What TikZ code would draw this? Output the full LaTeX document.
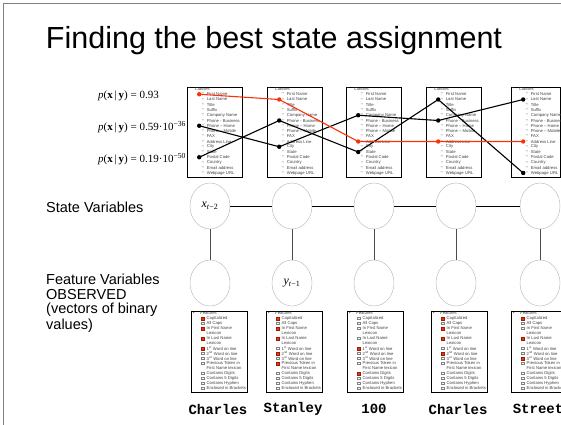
\documentclass[tikz,border=0pt]{standalone}
\usepackage{fontspec}
\setmainfont{Liberation Sans}
\newfontfamily\wordfont{Liberation Mono}
\newfontfamily\probfont{Liberation Serif}
\usetikzlibrary{shapes.geometric}
\definecolor{pathred}{RGB}{250,50,10}

\begin{document}
\begin{tikzpicture}[x=1pt,y=-1pt,
  classbox/.style={draw,line width=0.9pt,minimum height=90pt,anchor=north west,inner sep=0pt},
  featbox/.style={draw,line width=0.9pt,minimum width=56pt,minimum height=81pt,anchor=north west,inner sep=0pt},
  varnode/.style={draw=gray!60,ellipse,minimum width=40pt,minimum height=46pt,inner sep=0pt,font=\probfont\fontsize{12}{12}\selectfont},
  tiny/.style={font=\fontsize{4.2}{5}\selectfont,inner sep=0pt,anchor=west,text=black!75},
  tickbox/.style={draw=gray,line width=0.3pt,minimum size=2.4pt,inner sep=0pt},
  ticked/.style={fill=pathred,draw=pathred!60!black,line width=0.3pt,minimum size=2.8pt,inner sep=0pt},
  side/.style={font=\fontsize{14.5}{15.5}\selectfont,anchor=west,inner sep=0pt},
  prob/.style={font=\probfont\fontsize{11}{11}\selectfont,anchor=west,inner sep=0pt},
]
  \clip (0,0) rectangle (561,424);
  \draw[gray,line width=1pt] (3,3) rectangle (580,440);
  \node (title) at (274,41) {\fontsize{30.5}{30.5}\selectfont Finding the best state assignment};

  % candidate label sequences
  \node[prob] (p1) at (98,96) {\textit{p}(\textbf{x}\,|\,\textbf{y}) = 0.93};
  \node[prob] (p2) at (98,127) {\textit{p}(\textbf{x}\,|\,\textbf{y}) = 0.59·10\textsuperscript{−36}};
  \node[prob] (p3) at (98,159) {\textit{p}(\textbf{x}\,|\,\textbf{y}) = 0.19·10\textsuperscript{−50}};

  \foreach \i/\bx/\bw in {1/186.7/55,2/266.7/55,3/345.7/55,4/425.7/55,5/510.7/49.5} {
    \node[classbox,minimum width=\bw] (cls\i) at (\bx,87) {};
    \node[tiny] at (\bx+1.5,89) {\textbullet};
    \node[tiny] at (\bx+8,89) {Classes};
    \foreach \k/\lab in {1/First Name,2/Last Name,3/Title,4/Suffix,5/Company Name,6/Phone - Business,7/Phone – Home,8/Phone – Mobile,9/FAX,10/Address Line,11/City,12/State,13/Postal Code,14/Country,15/Email address,16/Webpage URL} {
      \node[tiny] at (\bx+15,89+5.25*\k) {–};
      \node[tiny] at (\bx+20,89+5.25*\k) {\lab};
      \coordinate (c\i-\k) at (\bx+12.5,89+5.25*\k);
    }
  }

  \draw[line width=1.1pt] (c1-7) -- (c2-11) -- (c3-5) -- (c4-6) -- (c5-2);
  \draw[line width=1.1pt] (c1-13) -- (c2-6) -- (c3-12) -- (c4-2) -- (c5-16);
  \draw[pathred,line width=1.1pt] (c1-1) -- (c2-2) -- (c3-10) -- (c4-10) -- (c5-10);
  \foreach \c in {c1-7,c1-13,c2-6,c2-11,c3-5,c3-12,c4-2,c4-6,c5-2,c5-16}
    \fill (\c) circle (2.2);
  \foreach \c in {c1-1,c2-2,c3-10,c4-10,c5-10}
    \fill[pathred] (\c) circle (2.2);

  % the chain
  \foreach \i/\cx in {1/210,2/292,3/374,4/456,5/540} {
    \node[varnode] (x\i) at (\cx,206) {};
    \node[varnode] (y\i) at (\cx,283) {};
    \draw[line width=0.8pt,black!70] (x\i) -- (y\i);
  }
  \node[font=\probfont\fontsize{12}{12}\selectfont] at (x1) {\textit{x}\textsubscript{\textit{t}−2}};
  \node[font=\probfont\fontsize{12}{12}\selectfont] at (y2) {\textit{y}\textsubscript{\textit{t}−1}};
  \foreach \i/\j in {1/2,2/3,3/4,4/5}
    \draw[line width=0.7pt] (x\i) -- (x\j);

  \node[side] (sv) at (46,207) {State Variables};
  \node[side] (fv) at (46,279) {Feature Variables};
  \node[side] (ob) at (46,294.5) {OBSERVED};
  \node[side] (vb) at (46,310) {(vectors of binary};
  \node[side] (vl) at (46,325.5) {values)};

  \foreach \i/\fx/\w in {1/191/Charles,2/266/Stanley,3/347/100,4/431/Charles,5/511/Street} {
    \node[featbox] (feat\i) at (\fx,311) {};
    \node[tiny] at (\fx+2,313.3) {\textbullet};
    \node[tiny] at (\fx+9,313.3) {Features};
    \foreach \k/\lab/\cb in {1/Capitalized/1,2/All Caps/1,3/In First Name/1,4/Lexicon/0,5/In Last Name/1,6/Lexicon/0,7/1\textsuperscript{st} Word on line/1,8/2\textsuperscript{nd} Word on line/1,9/3\textsuperscript{rd} Word on line/1,10/Previous Token in/1,11/First Name lexicon/0,12/Contains Digits/1,13/Contains 5 Digits/1,14/Contains Hyphen/1,15/Enclosed in Brackets/1} {
      \coordinate (f\i-\k) at (\fx+11.5,313.3+5*\k);
      \ifnum\cb=1 \node[tickbox] at (f\i-\k) {}; \fi
      \node[tiny] at (\fx+15.5,313.3+5*\k) {\lab};
    }
    \node[font=\wordfont\bfseries\fontsize{14}{14}\selectfont] (w\i) at (\fx+27,409) {\w};
  }
  \foreach \i/\k in {1/1,1/3,1/5,1/7,2/1,2/3,2/5,2/8,2/10,3/7,3/12,4/1,4/3,4/5,4/8,5/1,5/5,5/9}
    \node[ticked] at (f\i-\k) {};
\end{tikzpicture}
\end{document}
